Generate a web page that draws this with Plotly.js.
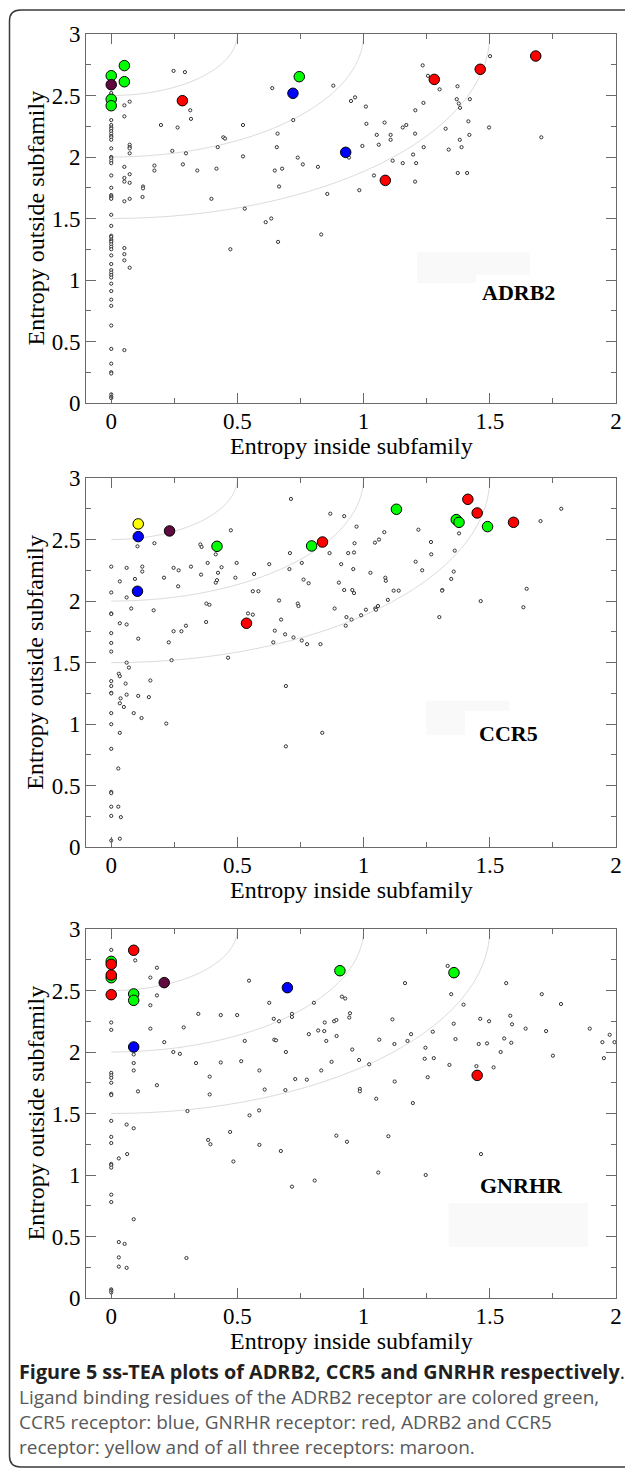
<!DOCTYPE html>
<html>
<head>
<meta charset="utf-8">
<script src="https://cdn.plot.ly/plotly-3.0.1.min.js"></script>
<style>
  html, body { margin: 0; padding: 0; background: #fff; }
  #chart { width: 625px; height: 1469px; }
</style>
</head>
<body>
<div id="chart"></div>
<script>
// ---------------- DATA ----------------
const panelNames = ['ADRB2', 'CCR5', 'GNRHR'];
const xTickVals = [0, 0.5, 1, 1.5, 2];
const xTickText = ['0', '0.5', '1', '1.5', '2'];
const yTickVals = [0, 0.5, 1, 1.5, 2, 2.5, 3];
const yTickText = ['0', '0.5', '1', '1.5', '2', '2.5', '3'];
const arcRadii = [0.5, 1, 1.5];

// small open-circle residues: [entropy inside, entropy outside]
const adrb2Small = [
  [0,2.52],[0,2.30],[0,2.26],[0,2.24],[0,2.23],[0,2.21],[0,2.19],[0,2.17],[0,2.16],[0,2.14],[0,2.07],[0,2.00],[0,1.99],[0,1.97],[0,1.95],[0,1.85],[0,1.75],[0,1.69],[0,1.68],[0,1.67],[0,1.66],[0,1.53],[0,1.44],[0,1.36],[0,1.35],[0,1.33],[0,1.32],[0,1.31],[0,1.29],[0,1.27],[0,1.25],[0,1.20],[0,1.13],[0,1.08],[0,1.06],[0,1.04],[0,1.02],[0,0.97],[0,0.91],[0,0.84],[0,0.79],[0,0.63],[0,0.44],[0,0.32],[0,0.25],[0,0.24],[0,0.07],[0,0.05],[0,0.04],
  [0.073,2.45],[0.052,2.42],[0.052,2.33],[0.073,2.10],[0.073,2.08],[0.073,2.07],[0.073,2.03],[0.052,1.92],[0.052,1.83],[0.073,1.86],[0.052,1.80],[0.073,1.79],[0.052,1.64],[0.073,1.66],[0.052,1.26],[0.052,1.21],[0.052,1.16],[0.073,1.10],[0.052,0.43],
  [0.126,1.76],[0.126,1.745],[0.124,1.675],[0.171,1.93],[0.171,1.89],[0.197,2.26],[0.247,2.70],[0.292,2.69],[0.263,2.24],[0.242,2.05],[0.284,1.94],[0.296,2.03],[0.313,2.38],[0.316,2.31],[0.341,1.89],[0.397,1.66],[0.417,1.905],[0.422,2.08],[0.444,2.16],[0.451,2.15],[0.472,1.25],[0.522,2.26],[0.522,2.005],[0.529,1.58],[0.612,1.47],[0.634,1.50],[0.638,2.56],[0.659,2.19],[0.656,2.08],[0.648,1.89],[0.677,1.905],[0.665,1.76],[0.661,1.31],[0.721,2.30],
  [0.739,1.995],[0.759,1.94],[0.819,1.92],[0.856,1.70],[0.832,1.37],[0.880,2.58],[0.950,2.455],[0.966,2.485],[1.009,2.41],[1.011,2.27],[0.995,2.09],[0.942,1.995],[0.983,1.73],[1.041,1.85],[1.052,2.18],[1.060,2.10],[1.083,2.28],[1.107,2.18],[1.107,2.14],[1.115,1.97],[1.155,2.24],[1.169,2.26],[1.155,1.95],[1.196,2.02],[1.208,1.95],[1.204,2.19],[1.205,2.38],[1.204,1.80],[1.237,2.44],[1.238,2.08],[1.234,2.745],[1.255,2.66],[1.301,2.55],[1.325,2.23],[1.337,2.06],[1.372,2.575],[1.369,2.47],[1.377,2.435],[1.382,2.40],[1.421,2.47],[1.415,2.29],[1.419,2.18],[1.381,2.14],[1.388,2.08],[1.373,1.87],[1.410,1.87],[1.501,2.82],[1.497,2.24],[1.704,2.16]
];
const ccr5Small = [
  [0,2.28],[0,2.07],[0,1.90],[0,1.895],[0,1.74],[0,1.66],[0,1.59],[0,1.35],[0,1.31],[0,1.255],[0,1.25],[0,1.09],[0,1.00],[0,0.80],[0,0.45],[0,0.44],[0,0.33],[0,0.255],[0,0.055],
  [0.034,2.16],[0.034,1.82],[0.061,2.27],[0.061,2.03],[0.061,1.81],[0.079,1.94],[0.094,2.18],[0.104,2.445],[0.107,1.695],[0.123,2.28],[0.123,2.24],[0.171,2.47],[0.168,1.925],[0.209,2.19],[0.228,1.665],[0.239,1.52],[0.247,2.27],[0.267,2.25],[0.265,2.12],[0.247,1.755],[0.278,1.755],[0.296,1.80],[0.316,2.28],[0.353,2.46],[0.358,2.44],[0.356,2.215],[0.377,1.98],[0.389,1.97],[0.376,1.83],[0.382,2.31],[0.414,2.15],[0.419,2.17],[0.423,2.23],[0.437,2.275],[0.414,2.38],[0.474,2.575],[0.463,1.54],[0.492,2.19],[0.497,2.31],[0.566,2.22],[0.561,2.08],[0.583,2.08],[0.542,1.90],[0.561,1.89],[0.626,2.30],[0.665,2.005],[0.673,1.85],[0.648,1.76],[0.689,1.73],[0.642,1.665],[0.722,1.705],[0.708,2.39],[0.706,2.26],[0.712,2.83],[0.692,1.31],[0.692,0.82],
  [0.061,1.50],[0.070,1.46],[0.030,1.41],[0.034,1.39],[0.057,1.33],[0.061,1.24],[0.107,1.23],[0.149,1.22],[0.155,1.355],[0.037,1.21],[0.034,1.17],[0.050,1.14],[0.089,1.09],[0.120,1.05],[0.218,1.005],[0.034,0.93],[0.028,0.64],[0.028,0.33],[0.038,0.245],[0.034,0.07],
  [0.755,2.31],[0.762,2.175],[0.782,2.145],[0.739,1.98],[0.742,1.96],[0.755,1.68],[0.776,1.65],[0.829,1.65],[0.836,0.93],[0.868,2.71],[0.923,2.69],[0.865,2.39],[0.911,2.30],[0.902,2.15],[0.923,2.09],[0.885,1.94],[0.932,1.87],[0.952,1.85],[0.929,1.80],[0.972,2.605],[0.964,2.47],[0.939,2.39],[0.962,2.395],[0.959,2.26],[0.955,2.09],[0.962,2.065],[0.990,1.885],[1.009,1.93],[1.027,2.23],[1.045,2.475],[1.061,2.50],[1.046,1.94],[1.049,1.93],[1.057,1.96],[1.082,2.56],[1.086,2.19],[1.088,2.165],[1.096,2.01],[1.119,2.085],[1.139,2.085],[1.217,2.58],[1.206,2.32],[1.232,2.25],[1.267,2.48],[1.268,2.38],[1.312,2.09],[1.311,2.085],[1.300,1.87],[1.347,2.18],[1.357,2.24],[1.361,2.41],[1.378,2.55],[1.464,2.00],[1.646,2.10],[1.633,1.95],[1.701,2.65],[1.783,2.75]
];
const gnrhrSmall = [
  [0,2.83],[0,2.24],[0,2.18],[0,1.83],[0,1.81],[0,1.79],[0,1.75],[0,1.66],[0,1.65],[0,1.44],[0,1.31],[0,1.26],[0,1.09],[0,1.08],[0,1.06],[0,0.84],[0,0.78],[0,0.07],[0,0.06],[0,0.045],
  [0.095,2.745],[0.181,2.685],[0.155,2.605],[0.181,2.46],[0.155,2.38],[0.155,2.19],[0.089,1.98],[0.089,1.91],[0.089,1.85],[0.106,1.68],[0.181,1.73],[0.210,2.08],[0.246,2.00],[0.272,1.985],[0.287,2.20],[0.345,2.31],[0.336,1.91],[0.302,1.52],[0.390,1.80],[0.390,1.655],[0.434,2.30],[0.434,1.915],[0.499,2.30],[0.515,1.925],[0.529,2.09],[0.546,2.58],[0.548,1.485],[0.586,1.525],[0.587,1.85],[0.608,1.695],[0.626,2.40],[0.644,2.27],[0.646,2.10],[0.653,2.095],[0.665,2.25],[0.692,2.00],[0.690,1.69],[0.716,2.31],[0.716,2.285],[0.729,1.78],[0.471,1.35],[0.384,1.285],[0.393,1.25],[0.484,1.11],[0.587,1.245],[0.672,1.195],[0.716,0.905],[0.061,1.41],[0.089,1.38],[0.030,1.135],[0.063,1.17],[0.089,0.64],[0.030,0.455],[0.053,0.44],[0.030,0.33],[0.030,0.255],[0.061,0.245],[0.298,0.325],
  [0.803,2.40],[0.783,2.145],[0.820,2.175],[0.844,2.17],[0.846,2.24],[0.852,2.09],[0.883,2.25],[0.892,2.26],[0.893,2.13],[0.914,2.45],[0.927,2.435],[0.946,2.315],[0.943,2.28],[0.955,2.02],[0.873,1.92],[0.832,1.85],[0.775,1.775],[0.982,1.935],[0.985,1.70],[0.985,1.68],[1.022,1.90],[1.050,1.62],[1.062,2.10],[1.114,2.265],[1.122,2.065],[1.123,1.76],[1.174,2.09],[1.188,2.145],[1.164,2.56],[1.195,1.585],[1.245,2.035],[1.242,1.945],[1.278,1.95],[1.254,1.795],[1.274,2.165],[1.333,2.70],[1.347,2.47],[1.396,2.385],[1.340,1.895],[1.357,2.23],[1.364,2.105],[1.447,1.885],[1.462,2.27],[1.497,2.25],[1.456,2.065],[1.489,2.07],[1.515,1.875],[1.543,2.00],[1.557,2.11],[1.581,2.295],[1.588,2.225],[1.585,2.075],[1.565,2.56],[1.465,1.17],[0.892,1.32],[0.934,1.27],[1.098,1.315],[1.058,1.02],[1.246,1.00],[0.806,0.955],[1.642,2.19],[1.706,2.47],[1.723,2.17],[1.750,1.97],[1.782,2.39],[1.896,2.19],[1.946,2.08],[1.952,1.95],[1.975,2.14],[1.994,2.08]
];

// ligand-binding residues: [inside, outside, group]
// group: ADRB2 (green), CCR5 (blue), GNRHR (red), ADRB2+CCR5 (yellow), ALL (maroon)
const adrb2Ligand = [
  [0,2.661,'ADRB2'],[0.052,2.743,'ADRB2'],[0.052,2.612,'ADRB2'],[0,2.469,'ADRB2'],[0,2.417,'ADRB2'],[0.745,2.653,'ADRB2'],
  [0.72,2.518,'CCR5'],[0.929,2.038,'CCR5'],
  [0.282,2.458,'GNRHR'],[1.086,1.810,'GNRHR'],[1.280,2.631,'GNRHR'],[1.462,2.713,'GNRHR'],[1.682,2.821,'GNRHR'],
  [0,2.588,'ALL']
];
const ccr5Ligand = [
  [0.107,2.627,'ADRB2+CCR5'],[0.107,2.524,'CCR5'],[0.104,2.080,'CCR5'],[0.231,2.570,'ALL'],
  [0.419,2.445,'ADRB2'],[0.536,1.820,'GNRHR'],[0.794,2.448,'ADRB2'],[0.837,2.480,'GNRHR'],
  [1.130,2.746,'ADRB2'],[1.367,2.662,'ADRB2'],[1.378,2.640,'ADRB2'],[1.491,2.605,'ADRB2'],
  [1.413,2.827,'GNRHR'],[1.450,2.716,'GNRHR'],[1.594,2.640,'GNRHR']
];
const gnrhrLigand = [
  [0,2.737,'ADRB2'],[0,2.604,'ADRB2'],[0.089,2.472,'ADRB2'],[0.089,2.420,'ADRB2'],[0.906,2.661,'ADRB2'],[1.358,2.645,'ADRB2'],
  [0,2.713,'GNRHR'],[0,2.626,'GNRHR'],[0,2.466,'GNRHR'],[0.089,2.827,'GNRHR'],[1.450,1.810,'GNRHR'],
  [0.210,2.564,'ALL'],[0.089,2.041,'CCR5'],[0.698,2.523,'CCR5']
];

// ---------------- STYLE ----------------
const groupColor = {
  'ADRB2': '#00ff00', 'CCR5': '#0000ff', 'GNRHR': '#ff0000',
  'ADRB2+CCR5': '#ffff00', 'ALL': '#600a40'
};
const serif = 'Liberation Serif';
const axisLine = '#6a6a6a';

const W = 625, H = 1469;
const plotLeft = 86, plotRight = 616;
const panelPx = [[34, 403], [478, 847.3], [929, 1298]]; // top, bottom pixel rows

const smallSets = [adrb2Small, ccr5Small, gnrhrSmall];
const ligandSets = [adrb2Ligand, ccr5Ligand, gnrhrLigand];

const traces = [];
const layout = {
  width: W, height: H,
  margin: {l: 0, r: 0, t: 0, b: 0},
  paper_bgcolor: '#fff', plot_bgcolor: '#fff',
  showlegend: false,
  shapes: [], annotations: []
};

function sfx(i) { return i === 0 ? '' : String(i + 1); }

panelNames.forEach((name, i) => {
  const xa = 'x' + sfx(i), ya = 'y' + sfx(i);
  const [top, bot] = panelPx[i];
  const common = {
    showline: true, linecolor: axisLine, linewidth: 1, mirror: 'ticks',
    ticks: 'inside', ticklen: 10, tickwidth: 1, tickcolor: axisLine,
    minor: {ticks: 'inside', ticklen: 5, tickwidth: 1, tickcolor: axisLine, dtick: 0.25, tick0: 0, showgrid: false},
    showgrid: false, zeroline: false, fixedrange: true,
    tickfont: {family: serif, size: 23, color: '#000'},
    tickmode: 'array'
  };
  layout['xaxis' + sfx(i)] = Object.assign({}, common, {
    domain: [plotLeft / W, plotRight / W], range: [-0.1, 2.0],
    anchor: ya, tickvals: xTickVals, ticktext: xTickText, ticklabelstandoff: -3
  });
  layout['yaxis' + sfx(i)] = Object.assign({}, common, {
    domain: [1 - bot / H, 1 - top / H], range: [0, 3],
    anchor: xa, tickvals: yTickVals, ticktext: yTickText
  });

  // guide arcs (quarter circles about the point (0,3))
  arcRadii.forEach(r => {
    const k = 0.5523;
    layout.shapes.push({
      type: 'path', xref: xa, yref: ya, layer: 'below',
      path: `M0,${3 - r} C${k * r},${3 - r} ${r},${3 - k * r} ${r},3`,
      line: {color: '#dcdcdc', width: 1}
    });
  });

  traces.push({
    type: 'scatter', mode: 'markers', xaxis: xa, yaxis: ya, hoverinfo: 'skip',
    x: smallSets[i].map(p => p[0]), y: smallSets[i].map(p => p[1]),
    marker: {size: 3.2, color: '#fff', line: {color: '#333', width: 1}}
  });
  traces.push({
    type: 'scatter', mode: 'markers', xaxis: xa, yaxis: ya, hoverinfo: 'skip',
    x: ligandSets[i].map(p => p[0]), y: ligandSets[i].map(p => p[1]),
    marker: {size: 10.5, color: ligandSets[i].map(p => groupColor[p[2]]), line: {color: '#000', width: 1}}
  });

  // axis titles
  layout.annotations.push({
    xref: 'paper', yref: 'paper', x: ((plotLeft + plotRight) / 2) / W, y: 1 - (bot + 43) / H,
    xanchor: 'center', yanchor: 'middle', showarrow: false, borderpad: 0,
    text: 'Entropy inside subfamily', font: {family: serif, size: 24, color: '#000'}
  });
  layout.annotations.push({
    xref: 'paper', yref: 'paper', x: 35 / W, y: 1 - ((top + bot) / 2) / H,
    xanchor: 'center', yanchor: 'middle', showarrow: false, textangle: -90, borderpad: 0,
    text: 'Entropy outside subfamily', font: {family: serif, size: 24, color: '#000'}
  });
});

// faint boxes + receptor labels
const faint = '#f9f9f9';
layout.shapes.push(
  {type: 'rect', xref: 'x', yref: 'y', x0: 1.212, x1: 1.659, y0: 1.041, y1: 1.225, fillcolor: faint, line: {width: 0}, layer: 'below'},
  {type: 'rect', xref: 'x', yref: 'y', x0: 1.212, x1: 1.446, y0: 0.973, y1: 1.041, fillcolor: faint, line: {width: 0}, layer: 'below'},
  {type: 'rect', xref: 'x2', yref: 'y2', x0: 1.248, x1: 1.577, y0: 1.110, y1: 1.191, fillcolor: faint, line: {width: 0}, layer: 'below'},
  {type: 'rect', xref: 'x2', yref: 'y2', x0: 1.248, x1: 1.402, y0: 0.915, y1: 1.110, fillcolor: faint, line: {width: 0}, layer: 'below'},
  {type: 'rect', xref: 'x3', yref: 'y3', x0: 1.337, x1: 1.889, y0: 0.417, y1: 0.770, fillcolor: faint, line: {width: 0}, layer: 'below'}
);
const labelPos = [[1.614, 0.898], [1.576, 0.926], [1.627, 0.912]];
panelNames.forEach((name, i) => {
  layout.annotations.push({
    xref: 'x' + sfx(i), yref: 'y' + sfx(i), x: labelPos[i][0], y: labelPos[i][1],
    xanchor: 'center', yanchor: 'middle', showarrow: false,
    text: '<b>' + name + '</b>', font: {family: serif, size: 22, color: '#000'}
  });
});

// outer rounded frame (open to the right, beyond the page)
(function () {
  const xl = 9.5 / W, xr = 1.05, yt = 1 - 10 / H, yb = 1 - 1467 / H;
  const rx = 11 / W, ry = 11 / H;
  layout.shapes.push({
    type: 'path', xref: 'paper', yref: 'paper',
    path: `M${xr},${yt} L${xl + rx},${yt} Q${xl},${yt} ${xl},${yt - ry} L${xl},${yb + ry} Q${xl},${yb} ${xl + rx},${yb} L${xr},${yb}`,
    line: {color: '#3a3a3a', width: 1.5}
  });
})();

// caption
const captionLines = [
  '<b>Figure 5 ss-TEA plots of ADRB2, CCR5 and GNRHR respectively</b>.',
  'Ligand binding residues of the ADRB2 receptor are colored green,',
  'CCR5 receptor: blue, GNRHR receptor: red, ADRB2 and CCR5',
  'receptor: yellow and of all three receptors: maroon.'
];
const captionY = [1371, 1397, 1422, 1447];
captionLines.forEach((t, i) => {
  layout.annotations.push({
    xref: 'paper', yref: 'paper', x: 17 / W, y: 1 - captionY[i] / H,
    xanchor: 'left', yanchor: 'middle', showarrow: false, text: t,
    font: {family: 'Open Sans', size: i === 0 ? 19.8 : 19, color: i === 0 ? '#231f20' : '#58595b'}
  });
});

Plotly.newPlot('chart', traces, layout, {staticPlot: true, displayModeBar: false});
</script>
</body>
</html>
